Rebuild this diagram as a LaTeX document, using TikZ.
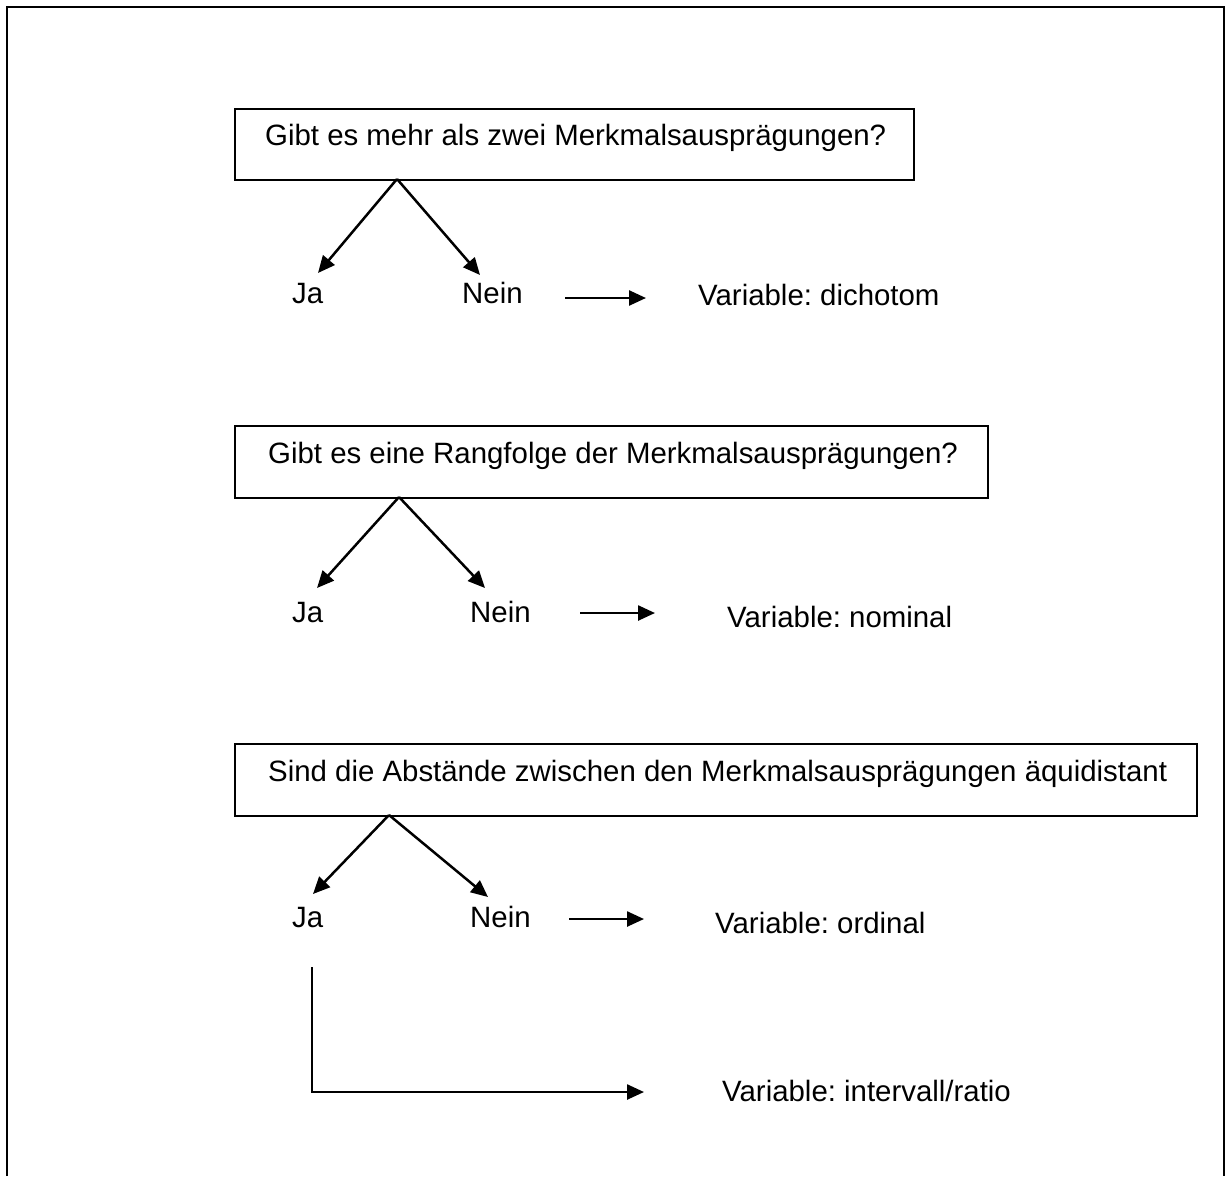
\documentclass[tikz,border=0pt]{standalone}
\usepackage{fontspec}
\setmainfont{Liberation Sans}
\usetikzlibrary{arrows.meta}
\frenchspacing
\begin{document}
\begin{tikzpicture}[x=1pt,y=-1pt,
  frame/.style={line width=2.8pt},
  qbox/.style={draw, line width=2.4pt, inner sep=0pt, anchor=north west},
  txt/.style={inner sep=0pt, anchor=base west, font=\fontsize{29.4}{34}\selectfont},
  arr/.style={line width=2.5pt, -{Triangle[length=17pt,width=15pt]}},
]
\useasboundingbox (0,0) rectangle (1226,1176);
% outer frame, open at the bottom
\draw[frame] (7,1176) -- (7,7) -- (1224,7) -- (1224,1176);

% question boxes
\node[qbox, minimum width=679pt, minimum height=71pt] (q1) at (234,108) {};
\node[qbox, minimum width=753pt, minimum height=72pt] (q2) at (234,425) {};
\node[qbox, minimum width=962pt, minimum height=72pt] (q3) at (234,743) {};

\node[txt] (q1t) at (265,145) {Gibt es mehr als zwei Merkmalsausprägungen?};
\node[txt] (q2t) at (268,463) {Gibt es eine Rangfolge der Merkmalsausprägungen?};
\node[txt] (q3t) at (268,781) {Sind die Abstände zwischen den Merkmalsausprägungen äquidistant};

% answers
\node[txt] (ja1) at (292,303) {Ja};
\node[txt] (nein1) at (462,303) {Nein};
\node[txt] (var1) at (698,305) {Variable: dichotom};

\node[txt] (ja2) at (292,622) {Ja};
\node[txt] (nein2) at (470,622) {Nein};
\node[txt] (var2) at (727,627) {Variable: nominal};

\node[txt] (ja3) at (292,927) {Ja};
\node[txt] (nein3) at (470,927) {Nein};
\node[txt] (var3) at (715,933) {Variable: ordinal};
\node[txt] (var4) at (722,1101) {Variable: intervall/ratio};

% branch points and arrow ends
\coordinate (s1) at (397,179);
\coordinate (ja1tip) at (318,273);
\coordinate (nein1tip) at (480,275);
\coordinate (r1a) at (565,298);
\coordinate (r1b) at (646,298);

\coordinate (s2) at (399,497);
\coordinate (ja2tip) at (317,588);
\coordinate (nein2tip) at (485,588);
\coordinate (r2a) at (580,613);
\coordinate (r2b) at (655,613);

\coordinate (s3) at (389,815);
\coordinate (ja3tip) at (313,894);
\coordinate (nein3tip) at (488,897);
\coordinate (r3a) at (569,919);
\coordinate (r3b) at (644,919);

\coordinate (l1) at (312,967);
\coordinate (l2) at (644,1092);

\draw[arr] (s1) -- (ja1tip);
\draw[arr] (s1) -- (nein1tip);
\draw[arr] (r1a) -- (r1b);

\draw[arr] (s2) -- (ja2tip);
\draw[arr] (s2) -- (nein2tip);
\draw[arr] (r2a) -- (r2b);

\draw[arr] (s3) -- (ja3tip);
\draw[arr] (s3) -- (nein3tip);
\draw[arr] (r3a) -- (r3b);

\draw[arr] (l1) |- (l2);
\end{tikzpicture}
\end{document}
